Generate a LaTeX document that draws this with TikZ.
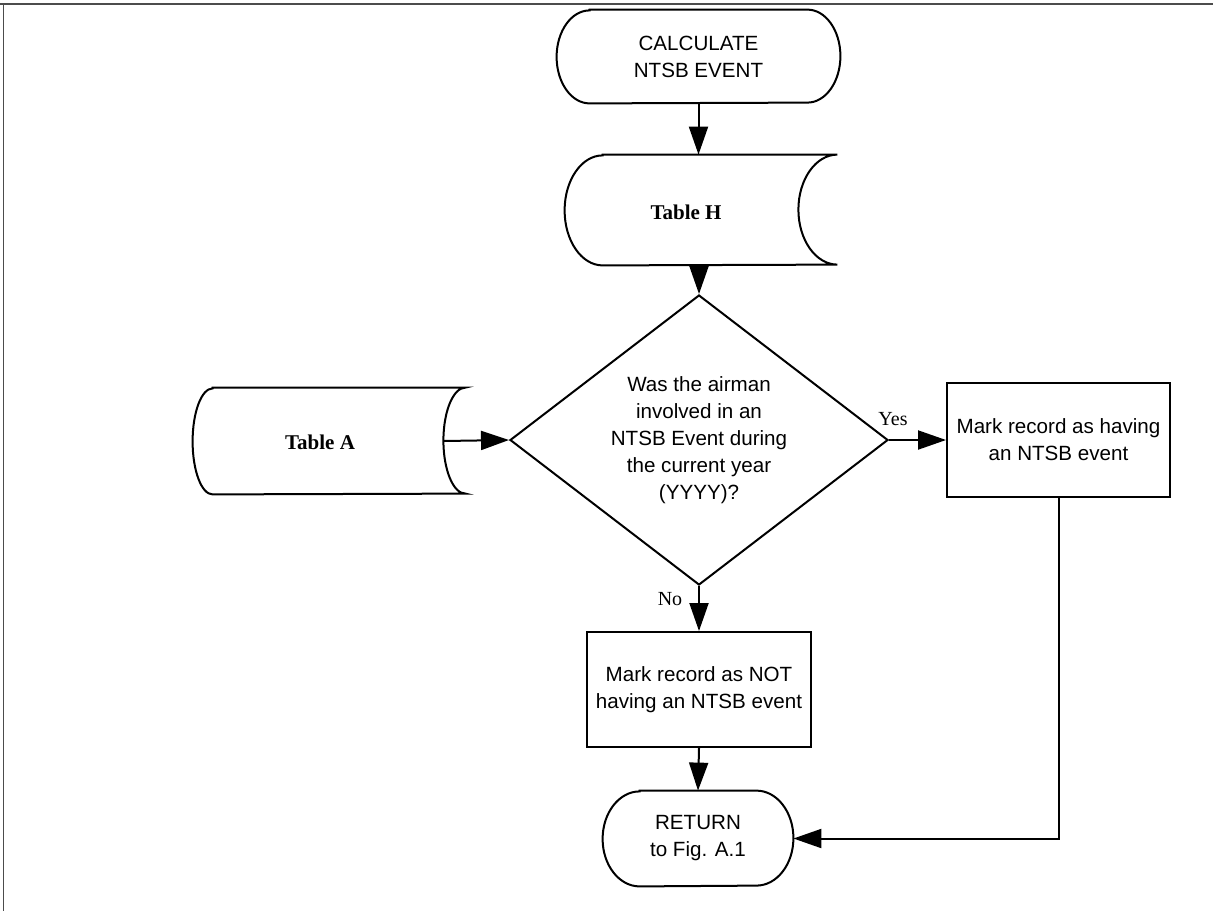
\documentclass[tikz,border=0pt]{standalone}
\usepackage{fontspec}
\setmainfont{Liberation Serif}
\newfontfamily\arialf{Liberation Sans}
\usetikzlibrary{shapes.geometric,arrows.meta}
\tikzset{
  ln/.style={line width=1pt,black},
  arr/.style={ln,-{Triangle[length=14pt,width=9.5pt]}},
  sansbox/.style={font=\arialf\fontsize{10.3pt}{13.5pt}\selectfont,align=center},
  procbox/.style={sansbox,draw,ln,rectangle,inner sep=0pt},
  termbox/.style={sansbox,inner sep=0pt},
  tabtxt/.style={font=\bfseries\fontsize{10.5pt}{12pt}\selectfont},
  lbl/.style={font=\fontsize{10pt}{12pt}\selectfont,inner sep=0pt},
  decbox/.style={sansbox,draw,ln,diamond,aspect=1.3,inner sep=0pt,minimum width=189pt,minimum height=145pt},
}
\begin{document}
\begin{tikzpicture}[x=0.5pt,y=-0.5pt]
\useasboundingbox (0,0) rectangle (1214,911);
% frame
\draw[line width=0.75pt,black!70] (0,4) -- (1213,4);
\draw[line width=0.75pt,black!70] (3.5,4) -- (3.5,911);

% start terminal
\node[termbox,minimum width=141.5pt,minimum height=46.5pt] (start) at (698.5,56.5) {CALCULATE\\NTSB EVENT};
\draw[ln] ([xshift=16.5pt]start.north west) -- ([xshift=-16.5pt]start.north east)
  arc[start angle=90,end angle=-90,x radius=16.5pt,y radius=23.25pt]
  -- ([xshift=16.5pt]start.south west)
  arc[start angle=270,end angle=90,x radius=16.5pt,y radius=23.25pt] -- cycle;

% Table H (stored data)
\node[inner sep=0pt,minimum width=136pt,minimum height=55pt] (tH) at (701,210) {};
\draw[ln] ([xshift=19pt]tH.north west) -- (tH.north east)
  arc[start angle=90,end angle=270,x radius=19.5pt,y radius=27.5pt]
  -- ([xshift=19pt]tH.south west)
  arc[start angle=270,end angle=90,x radius=19pt,y radius=27.5pt] -- cycle;
\node[tabtxt] (tHt) at (686,212) {Table H};

% Table A (stored data)
\node[inner sep=0pt,minimum width=136pt,minimum height=53pt] (tA) at (329,441) {};
\draw[ln] ([xshift=10pt]tA.north west) -- (tA.north east)
  arc[start angle=90,end angle=270,x radius=11pt,y radius=26.5pt]
  -- ([xshift=10pt]tA.south west)
  arc[start angle=270,end angle=90,x radius=10pt,y radius=26.5pt] -- cycle;
\node[tabtxt] (tAt) at (320,442) {Table A};

% decision
\node[decbox] (dec) at (699,440) {Was the airman\\involved in an\\NTSB Event during\\the current year\\(YYYY)?};

% process boxes
\node[procbox,minimum width=111.5pt,minimum height=57pt] (yes) at (1058.5,440) {Mark record as having\\an NTSB event};
\node[procbox,minimum width=112pt,minimum height=57.5pt] (no) at (699,689.5) {Mark record as NOT\\having an NTSB event};

% return terminal
\node[termbox,minimum width=95pt,minimum height=47.5pt] (ret) at (698,838.5) {RETURN\\to Fig. A.1};
\draw[ln] ([xshift=18.5pt]ret.north west) -- ([xshift=-18.5pt]ret.north east)
  arc[start angle=90,end angle=-90,x radius=18.5pt,y radius=23.75pt]
  -- ([xshift=18.5pt]ret.south west)
  arc[start angle=270,end angle=90,x radius=18.5pt,y radius=23.75pt] -- cycle;

% connectors
\draw[arr] (start.south) -- (start.south |- tH.north);
\draw[arr] (tH.south -| dec.north) -- (dec.north);
\draw[arr] ([xshift=-11pt]tA.east) -- (dec.west);
\draw[arr] (dec.east) -- (yes.west);
\draw[arr] (dec.south) -- (no.north);
\draw[arr] (no.south) -- (ret.north);
\draw[arr] (yes.south) |- (ret.east);

% labels
\node[lbl] (ylab) at (893,419) {Yes};
\node[lbl] (nlab) at (670,599) {No};
\end{tikzpicture}
\end{document}
